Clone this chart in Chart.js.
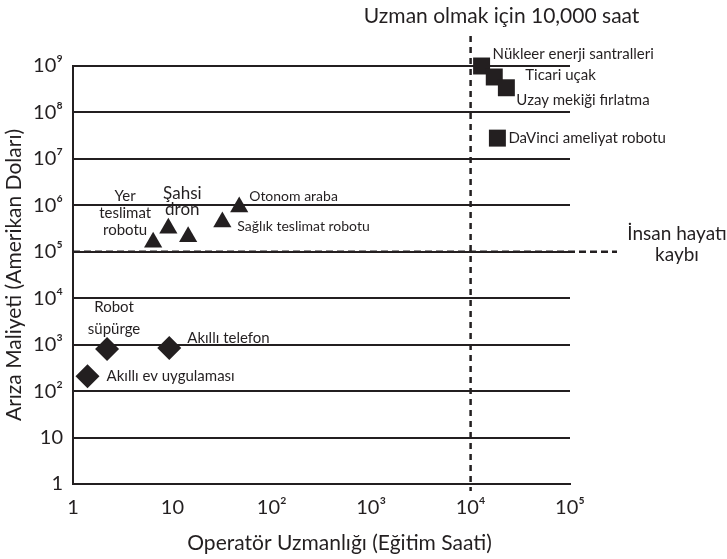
<!DOCTYPE html>
<html>
<head>
<meta charset="utf-8">
<script src="https://cdn.jsdelivr.net/npm/chart.js@4"></script>
<style>
  body { margin: 0; background: #fff; }
  #wrap { width: 727px; height: 559px; }
</style>
</head>
<body>
<div id="wrap"><canvas id="chart" width="727" height="559"></canvas></div>
<script>
// Values (training hours, failure cost in USD)
const diamondNames = ['Robot\nsüpürge', 'Akıllı telefon', 'Akıllı ev uygulaması'];
const diamondHours = [2.2, 9.3, 1.4];
const diamondCost = [810, 850, 210];

const triangleNames = ['Yer\nteslimat\nrobotu', 'Şahsi\ndron', '', 'Sağlık teslimat robotu', 'Otonom araba'];
const triangleHours = [6.4, 9.1, 14.4, 31.8, 47];
const triangleCost = [1.6e5, 3.2e5, 2.1e5, 4.4e5, 9.2e5];

const squareNames = ['Nükleer enerji santralleri', 'Ticari uçak', 'Uzay mekiği fırlatma', 'DaVinci ameliyat robotu'];
const squareHours = [12900, 17300, 22900, 18600];
const squareCost = [1e9, 5.8e8, 3.4e8, 2.8e7];

const xTickValues = [1, 10, 100, 1000, 10000, 100000];
const xTickLabels = ['1', '10', '10²', '10³', '10⁴', '10⁵'];
const yTickValues = [1, 10, 100, 1e3, 1e4, 1e5, 1e6, 1e7, 1e8, 1e9];
const yTickLabels = ['1', '10', '10²', '10³', '10⁴', '10⁵', '10⁶', '10⁷', '10⁸', '10⁹'];

const expertLine = 10000;     // "Uzman olmak için 10,000 saat"
const lifeLossLine = 100000;  // "İnsan hayatı kaybı"

const ink = '#231f20';
const fontFamily = 'Lato, "Open Sans", sans-serif';

// label placement per point: offset from the mark, text alignment, font size
const diamondLabelStyle = [
  { dx: 7, dy: -42, align: 'center', size: 15, lh: 22 },
  { dx: 18, dy: -10, align: 'left', size: 15, lh: 18 },
  { dx: 19, dy: 0, align: 'left', size: 15, lh: 18 }
];
const triangleLabelStyle = [
  { dx: -28, dy: -46, align: 'center', size: 15, lh: 17 },
  { dx: 14, dy: -35, align: 'center', size: 17, lh: 16 },
  { dx: 0, dy: 0, align: 'left', size: 14, lh: 16 },
  { dx: 15, dy: 5, align: 'left', size: 14, lh: 16 },
  { dx: 10, dy: -11, align: 'left', size: 14, lh: 16 }
];
const squareLabelStyle = [
  { dx: 11, dy: -12, align: 'left', size: 15, lh: 16 },
  { dx: 31, dy: -2, align: 'left', size: 15, lh: 16 },
  { dx: 10, dy: 12, align: 'left', size: 15, lh: 16 },
  { dx: 11, dy: 0, align: 'left', size: 15, lh: 16 }
];

function toPoints(xs, ys) {
  return xs.map((x, i) => ({ x: x, y: ys[i] }));
}

function drawLines(ctx, text, x, y, st) {
  if (!text) return;
  const lines = text.split('\n');
  ctx.font = st.size + 'px ' + fontFamily;
  ctx.textAlign = st.align;
  ctx.textBaseline = 'middle';
  lines.forEach((ln, i) => ctx.fillText(ln, x, y + i * st.lh));
}

const annotations = {
  id: 'annotations',
  beforeDatasetsDraw(chart) {
    const ctx = chart.ctx;
    const xs = chart.scales.x, ys = chart.scales.y;
    const area = chart.chartArea;
    ctx.save();
    ctx.strokeStyle = ink;
    ctx.lineWidth = 2.5;
    // vertical expertise line
    const vx = xs.getPixelForValue(expertLine);
    ctx.setLineDash([6, 5]);
    ctx.beginPath();
    ctx.moveTo(vx, 36);
    ctx.lineTo(vx, area.bottom + 7);
    ctx.stroke();
    // horizontal life-loss line
    const hy = ys.getPixelForValue(lifeLossLine);
    ctx.setLineDash([7, 4]);
    ctx.beginPath();
    ctx.moveTo(area.left, hy);
    ctx.lineTo(617, hy);
    ctx.stroke();
    ctx.restore();
  },
  afterDraw(chart) {
    const ctx = chart.ctx;
    const xs = chart.scales.x, ys = chart.scales.y;
    const area = chart.chartArea;
    ctx.save();
    ctx.fillStyle = ink;

    const groups = [
      [diamondNames, diamondHours, diamondCost, diamondLabelStyle],
      [triangleNames, triangleHours, triangleCost, triangleLabelStyle],
      [squareNames, squareHours, squareCost, squareLabelStyle]
    ];
    groups.forEach(([names, hx, cy, styles]) => {
      names.forEach((n, i) => {
        const px = xs.getPixelForValue(hx[i]);
        const py = ys.getPixelForValue(cy[i]);
        drawLines(ctx, n, px + styles[i].dx, py + styles[i].dy, styles[i]);
      });
    });

    // line captions
    const vx = xs.getPixelForValue(expertLine);
    drawLines(ctx, 'Uzman olmak için 10,000 saat', vx + 31, 16, { align: 'center', size: 21, lh: 21 });
    const hy = ys.getPixelForValue(lifeLossLine);
    drawLines(ctx, 'İnsan hayatı\nkaybı', 677, hy - 18, { align: 'center', size: 19, lh: 21 });

    // x axis title
    drawLines(ctx, 'Operatör Uzmanlığı (Eğitim Saati)', (area.left + area.right) / 2 + 18, 543,
      { align: 'center', size: 21, lh: 21 });
    ctx.restore();
  }
};

const markerStyle = {
  backgroundColor: ink,
  borderColor: ink,
  borderWidth: 0,
  hoverRadius: 0
};

new Chart(document.getElementById('chart'), {
  type: 'scatter',
  data: {
    datasets: [
      Object.assign({ label: 'diamonds', data: toPoints(diamondHours, diamondCost), pointStyle: 'rectRot', pointRadius: 12 }, markerStyle),
      Object.assign({ label: 'triangles', data: toPoints(triangleHours, triangleCost), pointStyle: 'triangle', pointRadius: 10.5 }, markerStyle),
      Object.assign({ label: 'squares', data: toPoints(squareHours, squareCost), pointStyle: 'rect', pointRadius: 12 }, markerStyle)
    ]
  },
  options: {
    responsive: false,
    animation: false,
    clip: false,
    layout: { padding: { top: 66, right: 157, left: 0, bottom: 0 } },
    plugins: {
      legend: { display: false },
      tooltip: { enabled: false }
    },
    scales: {
      x: {
        type: 'logarithmic',
        min: 1,
        max: 100000,
        afterBuildTicks: s => { s.ticks = xTickValues.map(v => ({ value: v })); },
        afterFit: s => { s.height = 75; },
        grid: { display: false, drawTicks: false },
        border: { display: true, color: ink, width: 2 },
        ticks: {
          color: ink,
          padding: 12,
          maxRotation: 0,
          autoSkip: false,
          font: { family: fontFamily, size: 20 },
          callback: (v, i) => xTickLabels[i]
        }
      },
      y: {
        type: 'logarithmic',
        min: 1,
        max: 1e9,
        afterBuildTicks: s => { s.ticks = yTickValues.map(v => ({ value: v })); },
        afterFit: s => { s.width = 73; },
        grid: { color: ink, lineWidth: 2, drawTicks: false },
        border: { display: true, color: ink, width: 2 },
        title: {
          display: true,
          text: 'Arıza Maliyeti (Amerikan Doları)',
          color: ink,
          padding: { top: 2, bottom: 0 },
          font: { family: fontFamily, size: 21 }
        },
        ticks: {
          color: ink,
          padding: 10,
          autoSkip: false,
          font: { family: fontFamily, size: 20 },
          callback: (v, i) => yTickLabels[i]
        }
      }
    }
  },
  plugins: [annotations]
});
</script>
</body>
</html>
